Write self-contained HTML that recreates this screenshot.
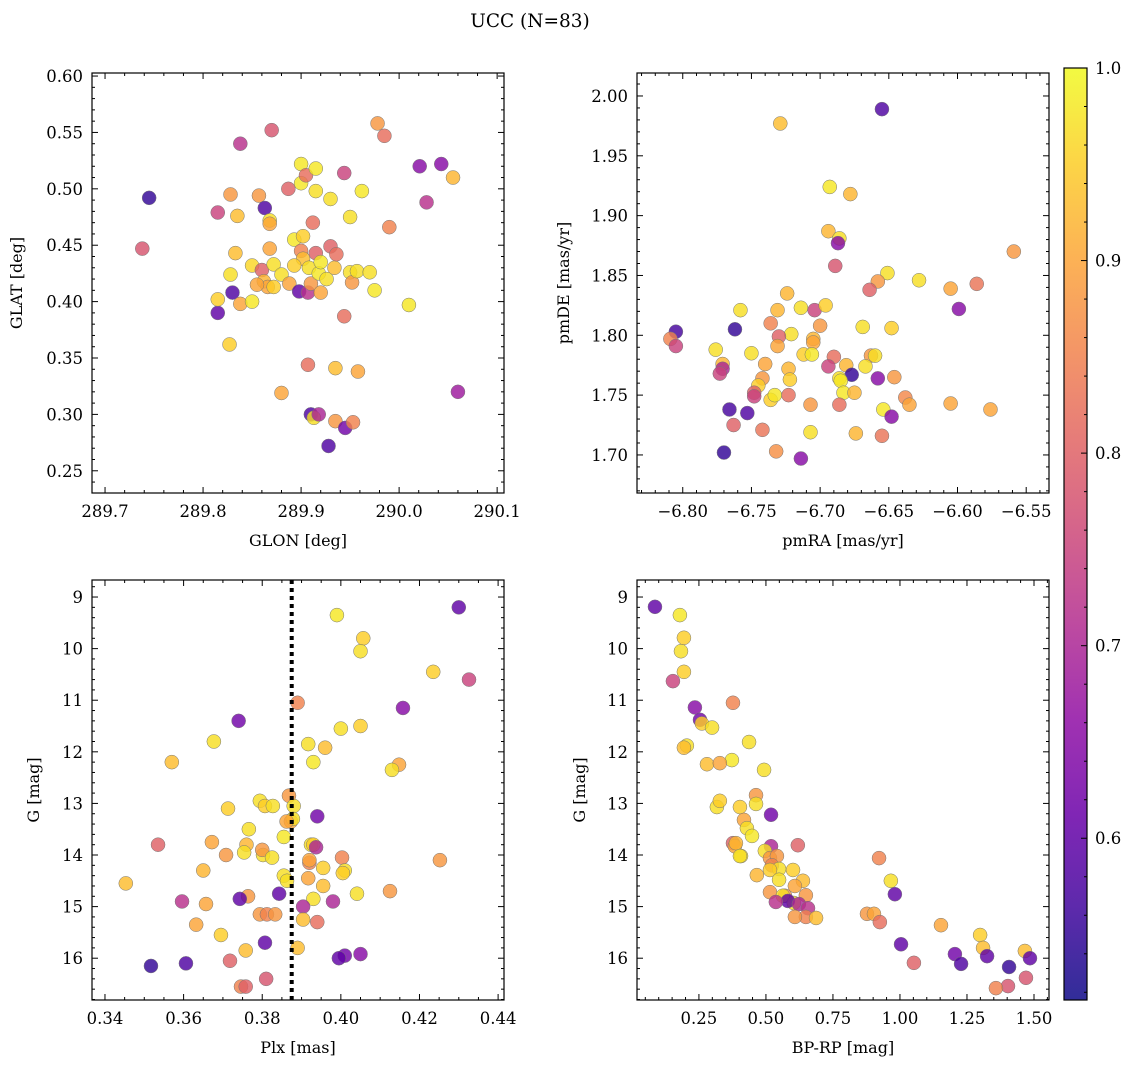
<!DOCTYPE html>
<html><head><meta charset="utf-8"><style>
body{margin:0;background:#fff;}
svg{display:block;font-family:"DejaVu Serif","Liberation Serif",serif;}
</style></head><body>
<svg id="c" width="1136" height="1068" viewBox="0 0 1136 1068" xmlns="http://www.w3.org/2000/svg">
<text x="530" y="27" text-anchor="middle" font-size="18.5">UCC (N=83)</text>
</svg>
<script>
// Panel 1: GLON / GLAT
const glon=[289.745,289.738,289.815,289.815,289.815,289.827,289.830,289.828,289.833,289.828,289.835,289.838,289.838,289.850,289.850,289.857,289.860,289.862,289.863,289.866,289.870,289.868,289.868,289.868,289.872,289.872,289.880,289.880,289.887,289.888,289.893,289.898,289.900,289.900,289.900,289.902,289.902,289.905,289.907,289.907,289.908,289.910,289.910,289.912,289.913,289.915,289.915,289.915,289.918,289.918,289.920,289.928,289.930,289.930,289.934,289.935,289.935,289.936,289.944,289.944,289.945,289.950,289.950,289.952,289.953,289.957,289.958,289.962,289.970,289.975,289.978,289.985,289.990,290.010,290.021,290.028,290.043,290.055,290.060,289.855,289.893,289.926,289.920];
const glat=[0.492,0.447,0.479,0.390,0.402,0.362,0.408,0.424,0.443,0.495,0.476,0.540,0.398,0.400,0.432,0.494,0.428,0.418,0.483,0.413,0.552,0.472,0.469,0.447,0.413,0.433,0.319,0.424,0.500,0.416,0.455,0.409,0.522,0.505,0.445,0.438,0.458,0.512,0.344,0.408,0.430,0.300,0.416,0.470,0.297,0.443,0.518,0.498,0.425,0.300,0.435,0.272,0.491,0.449,0.430,0.341,0.294,0.442,0.514,0.387,0.288,0.475,0.426,0.417,0.293,0.427,0.338,0.498,0.426,0.410,0.558,0.547,0.466,0.397,0.520,0.488,0.522,0.510,0.320,0.415,0.432,0.420,0.408];
const prob1=[0.55,0.78,0.75,0.6,0.95,0.95,0.58,0.97,0.93,0.88,0.93,0.72,0.9,0.98,0.96,0.88,0.8,0.92,0.58,0.9,0.78,0.97,0.9,0.9,0.95,0.97,0.9,0.97,0.8,0.9,0.98,0.6,0.98,0.98,0.85,0.93,0.95,0.82,0.82,0.72,0.97,0.58,0.88,0.82,0.97,0.8,0.98,0.97,0.98,0.7,0.98,0.58,0.97,0.8,0.93,0.93,0.88,0.82,0.75,0.82,0.62,0.97,0.97,0.88,0.85,0.97,0.9,0.98,0.97,0.98,0.88,0.82,0.85,0.98,0.65,0.72,0.65,0.92,0.68,0.9,0.95,0.97,0.9];
// Panel 2: pmRA / pmDE
const pmra=[-6.655,-6.729,-6.693,-6.678,-6.694,-6.686,-6.687,-6.559,-6.689,-6.651,-6.658,-6.664,-6.628,-6.605,-6.586,-6.599,-6.724,-6.758,-6.731,-6.714,-6.704,-6.696,-6.805,-6.762,-6.736,-6.721,-6.700,-6.730,-6.669,-6.648,-6.809,-6.805,-6.776,-6.750,-6.731,-6.705,-6.705,-6.712,-6.706,-6.690,-6.663,-6.660,-6.771,-6.771,-6.773,-6.740,-6.723,-6.722,-6.694,-6.681,-6.667,-6.677,-6.658,-6.646,-6.686,-6.685,-6.742,-6.745,-6.748,-6.748,-6.736,-6.733,-6.723,-6.683,-6.675,-6.638,-6.635,-6.707,-6.686,-6.605,-6.576,-6.654,-6.648,-6.766,-6.753,-6.763,-6.742,-6.707,-6.674,-6.655,-6.770,-6.732,-6.714];
const pmde=[1.989,1.977,1.924,1.918,1.887,1.881,1.877,1.870,1.858,1.852,1.845,1.838,1.846,1.839,1.843,1.822,1.835,1.821,1.821,1.823,1.821,1.825,1.803,1.805,1.810,1.801,1.808,1.799,1.807,1.806,1.797,1.791,1.788,1.785,1.791,1.797,1.794,1.784,1.784,1.782,1.783,1.783,1.776,1.772,1.768,1.776,1.772,1.763,1.774,1.775,1.774,1.767,1.764,1.765,1.764,1.762,1.764,1.758,1.752,1.749,1.746,1.750,1.750,1.752,1.752,1.748,1.742,1.742,1.742,1.743,1.738,1.738,1.732,1.738,1.735,1.725,1.721,1.719,1.718,1.716,1.702,1.703,1.697];
const prob2=[0.58,0.93,0.98,0.92,0.92,0.97,0.65,0.88,0.78,0.97,0.88,0.8,0.97,0.9,0.83,0.65,0.92,0.97,0.92,0.97,0.75,0.95,0.57,0.55,0.85,0.97,0.88,0.8,0.97,0.95,0.85,0.75,0.97,0.97,0.9,0.92,0.9,0.95,0.98,0.82,0.88,0.97,0.92,0.7,0.75,0.9,0.92,0.95,0.75,0.92,0.97,0.55,0.65,0.88,0.97,0.98,0.88,0.95,0.8,0.75,0.95,0.98,0.82,0.98,0.92,0.86,0.9,0.88,0.82,0.9,0.9,0.98,0.65,0.57,0.58,0.8,0.83,0.97,0.92,0.83,0.55,0.87,0.65];
// Panel 3: Plx / G
const plx=[0.430,0.399,0.4057,0.405,0.4235,0.4326,0.389,0.4158,0.374,0.405,0.400,0.3677,0.3917,0.396,0.357,0.393,0.4148,0.413,0.3868,0.3794,0.3713,0.3807,0.3827,0.388,0.394,0.3873,0.3878,0.3766,0.3855,0.3535,0.3672,0.376,0.3924,0.393,0.3937,0.3754,0.3708,0.3802,0.38,0.3825,0.4003,0.392,0.3955,0.4252,0.365,0.401,0.4005,0.3855,0.3863,0.3917,0.3955,0.3453,0.4041,0.4125,0.3764,0.3843,0.393,0.3743,0.3657,0.3596,0.398,0.3904,0.3794,0.3812,0.3833,0.3904,0.394,0.3632,0.3695,0.3807,0.389,0.3758,0.3718,0.3606,0.3517,0.401,0.3995,0.405,0.381,0.3746,0.3758,0.3862,0.392];
const gmag3=[9.2,9.35,9.8,10.05,10.45,10.6,11.05,11.15,11.4,11.5,11.55,11.8,11.85,11.92,12.2,12.2,12.25,12.35,12.85,12.95,13.1,13.05,13.05,13.05,13.25,13.35,13.3,13.5,13.65,13.8,13.75,13.8,13.8,13.8,13.85,13.95,14.0,14.0,13.9,14.05,14.05,14.15,14.25,14.1,14.3,14.3,14.35,14.4,14.5,14.45,14.6,14.55,14.75,14.7,14.8,14.75,14.85,14.85,14.95,14.9,14.9,15.0,15.15,15.15,15.15,15.25,15.3,15.35,15.55,15.7,15.8,15.85,16.05,16.1,16.15,15.95,16.0,15.92,16.4,16.55,16.55,13.35,14.1];
const prob3=[0.6,0.98,0.95,0.97,0.95,0.75,0.85,0.65,0.62,0.95,0.97,0.97,0.97,0.93,0.93,0.98,0.9,0.97,0.88,0.97,0.95,0.95,0.97,0.97,0.62,0.9,0.97,0.97,0.98,0.8,0.9,0.92,0.97,0.95,0.7,0.97,0.88,0.97,0.88,0.97,0.85,0.85,0.95,0.88,0.92,0.97,0.95,0.97,0.97,0.9,0.93,0.93,0.97,0.88,0.88,0.6,0.97,0.6,0.9,0.72,0.7,0.7,0.88,0.85,0.88,0.93,0.82,0.9,0.95,0.6,0.93,0.93,0.8,0.58,0.55,0.62,0.6,0.65,0.78,0.85,0.8,0.9,0.9];
// Panel 4: BP-RP / G
const bprp=[0.086,0.179,0.194,0.183,0.194,0.153,0.377,0.235,0.254,0.261,0.299,0.437,0.205,0.194,0.280,0.373,0.328,0.493,0.463,0.317,0.403,0.328,0.463,0.519,0.418,0.429,0.448,0.377,0.384,0.407,0.388,0.519,0.619,0.496,0.403,0.515,0.541,0.922,0.522,0.601,0.549,0.515,0.466,0.966,0.549,0.638,0.608,0.515,0.571,0.981,0.563,0.649,0.604,0.582,0.537,0.623,0.657,0.649,0.608,0.877,0.903,0.687,0.925,1.153,1.299,1.004,1.31,1.466,1.205,1.325,1.485,1.052,1.228,1.407,1.403,1.358,1.47];
const gmag4=[9.19,9.35,9.79,10.05,10.45,10.63,11.05,11.14,11.38,11.45,11.53,11.81,11.88,11.92,12.24,12.16,12.22,12.35,12.84,13.07,13.07,12.95,13.01,13.22,13.32,13.48,13.63,13.77,13.83,14.02,13.77,13.83,13.81,13.92,14.02,14.06,14.02,14.06,14.2,14.29,14.27,14.29,14.39,14.5,14.48,14.5,14.6,14.72,14.79,14.76,14.79,14.78,14.93,14.89,14.91,14.95,15.03,15.2,15.2,15.14,15.14,15.22,15.3,15.36,15.55,15.73,15.8,15.86,15.92,15.96,16.0,16.09,16.11,16.17,16.54,16.58,16.38];
const prob4=[0.6,0.98,0.95,0.97,0.95,0.75,0.85,0.65,0.62,0.95,0.97,0.97,0.97,0.93,0.93,0.98,0.9,0.97,0.88,0.97,0.95,0.95,0.97,0.62,0.9,0.97,0.98,0.8,0.9,0.97,0.92,0.7,0.8,0.97,0.97,0.88,0.88,0.85,0.85,0.95,0.97,0.95,0.92,0.97,0.97,0.93,0.9,0.88,0.88,0.6,0.97,0.88,0.97,0.6,0.72,0.7,0.72,0.85,0.88,0.88,0.9,0.93,0.82,0.9,0.95,0.6,0.93,0.93,0.62,0.6,0.6,0.8,0.58,0.55,0.78,0.85,0.78];
const plxLine=0.3875;
const cbTicks=[0.6,0.7,0.8,0.9,1.0];
const cbMin=0.516, cbMax=1.0;

const NS="http://www.w3.org/2000/svg";
const svg=document.getElementById('c');
const FS=16.5;
function mk(tag,attrs,parent){const e=document.createElementNS(NS,tag);for(const k in attrs)e.setAttribute(k,attrs[k]);(parent||svg).appendChild(e);return e;}
const stops=['#0d0887','#41049d','#6a00a8','#8f0da4','#b12a90','#cc4778','#e16462','#f2844b','#fca636','#fcce25','#f0f921'];
function hex(c){return [parseInt(c.slice(1,3),16),parseInt(c.slice(3,5),16),parseInt(c.slice(5,7),16)];}
function plasma(t){t=Math.max(0,Math.min(1,t));const f=t*10,i=Math.min(9,Math.floor(f)),r=f-i;const a=hex(stops[i]),b=hex(stops[i+1]);return 'rgb('+a.map((v,k)=>Math.round(v+(b[k]-v)*r)).join(',')+')';}
function cmap(v){return plasma((v-cbMin)/(cbMax-cbMin));}

function panel(o){
  const g=mk('g',{});
  
  
  const X=v=>o.x0+(v-o.xd[0])/(o.xd[1]-o.xd[0])*(o.x1-o.x0);
  const Y=v=>o.y1-(v-o.yd[0])/(o.yd[1]-o.yd[0])*(o.y1-o.y0);
  const pg=mk('g',{},g);
  const n=Math.min(o.xs.length,o.ys.length,o.cs.length);
  for(let i=0;i<n;i++){
    const c=mk('circle',{cx:X(o.xs[i]),cy:Y(o.ys[i]),r:7,fill:cmap(o.cs[i]),'fill-opacity':0.82,stroke:'#777','stroke-width':0.5},pg);
    
    
  }
  if(o.vline!==undefined){
    const l=mk('line',{x1:X(o.vline),x2:X(o.vline),y1:o.y0,y2:o.y1,stroke:'#000','stroke-width':4,'stroke-dasharray':'4,4'},g);
    
    
  }
  const fr=mk('rect',{x:o.x0,y:o.y0,width:o.x1-o.x0,height:o.y1-o.y0,fill:'none',stroke:'#000','stroke-width':1.2},g);
  
  
  const eps=1e-9;
  const xs0=Math.ceil(o.xd[0]/o.xmin-eps)*o.xmin;
  for(let v=xs0;v<=o.xd[1]+eps;v+=o.xmin){
    const maj=Math.abs(v/o.xmaj-Math.round(v/o.xmaj))<1e-4;const L=maj?6:3;const px=X(v);
    mk('line',{x1:px,x2:px,y1:o.y1,y2:o.y1-L,stroke:'#000','stroke-width':1},g);
    mk('line',{x1:px,x2:px,y1:o.y0,y2:o.y0+L,stroke:'#000','stroke-width':1},g);
  }
  o.xlabs.forEach(s=>{const t=mk('text',{x:X(parseFloat(s.replace('−','-'))),y:o.y1+24,'text-anchor':'middle','font-size':FS},g);t.textContent=s;
    });
  const ys0=Math.ceil(o.yd[0]/o.ymin-eps)*o.ymin;
  for(let v=ys0;v<=o.yd[1]+eps;v+=o.ymin){
    const maj=Math.abs(v/o.ymaj-Math.round(v/o.ymaj))<1e-4;const L=maj?6:3;const py=Y(v);
    mk('line',{x1:o.x0,x2:o.x0+L,y1:py,y2:py,stroke:'#000','stroke-width':1},g);
    mk('line',{x1:o.x1,x2:o.x1-L,y1:py,y2:py,stroke:'#000','stroke-width':1},g);
  }
  o.ylabs.forEach(s=>{const t=mk('text',{x:o.x0-9,y:Y(parseFloat(s))+6,'text-anchor':'end','font-size':FS},g);t.textContent=s;
    });
  const xt=mk('text',{x:(o.x0+o.x1)/2,y:o.y1+53,'text-anchor':'middle','font-size':16},g);xt.textContent=o.xt;
  
  const yt=mk('text',{x:o.ytx,y:(o.y0+o.y1)/2,'text-anchor':'middle','font-size':16,transform:'rotate(-90 '+o.ytx+' '+(o.y0+o.y1)/2+')'},g);yt.textContent=o.yt;
  
}

panel({name:'glon-glat-panel',x0:92,x1:504,y0:73,y1:493,xd:[289.6867,290.107],yd:[0.2303,0.6027],xs:glon,ys:glat,cs:prob1,
  xmaj:0.1,xmin:0.02,ymaj:0.05,ymin:0.01,xlabs:['289.7','289.8','289.9','290.0','290.1'],
  ylabs:['0.25','0.30','0.35','0.40','0.45','0.50','0.55','0.60'],xt:'GLON [deg]',yt:'GLAT [deg]',ytx:22});
panel({name:'pm-panel',x0:637,x1:1049,y0:73,y1:493,xd:[-6.8333,-6.5334],yd:[1.6682,2.0192],xs:pmra,ys:pmde,cs:prob2,
  xmaj:0.05,xmin:0.01,ymaj:0.05,ymin:0.01,xlabs:['−6.80','−6.75','−6.70','−6.65','−6.60','−6.55'],
  ylabs:['1.70','1.75','1.80','1.85','1.90','1.95','2.00'],xt:'pmRA [mas/yr]',yt:'pmDE [mas/yr]',ytx:569});
panel({name:'plx-g-panel',x0:92,x1:504,y0:580,y1:1000,xd:[0.3367,0.4415],yd:[-16.81,-8.67],xs:plx,ys:gmag3.map(v=>-v),cs:prob3,vline:plxLine,
  xmaj:0.02,xmin:0.005,ymaj:1,ymin:0.2,xlabs:['0.34','0.36','0.38','0.40','0.42','0.44'],
  ylabs:[],xt:'Plx [mas]',yt:'G [mag]',ytx:39});
panel({name:'cmd-panel',x0:637,x1:1049,y0:580,y1:1000,xd:[0.019,1.556],yd:[-16.81,-8.67],xs:bprp,ys:gmag4.map(v=>-v),cs:prob4,
  xmaj:0.25,xmin:0.05,ymaj:1,ymin:0.2,xlabs:['0.25','0.50','0.75','1.00','1.25','1.50'],
  ylabs:[],xt:'BP-RP [mag]',yt:'G [mag]',ytx:585});
const gTicks=[9,10,11,12,13,14,15,16];
[92,637].forEach(x0=>{gTicks.forEach(v=>{const py=1000-(-v+16.81)/(16.81-8.67)*420;
  const t=mk('text',{x:x0-9,y:py+6,'text-anchor':'end','font-size':FS});t.textContent=String(v);
  });});
const defs=mk('defs',{});const lg=mk('linearGradient',{id:'pl',x1:0,y1:1,x2:0,y2:0},defs);
for(let i=0;i<=20;i++){mk('stop',{offset:i/20,'stop-color':plasma(i/20),'stop-opacity':0.85},lg);}
const cb=mk('rect',{x:1064,y:68,width:23,height:932,fill:'url(#pl)',stroke:'#000','stroke-width':1.2});


const CY=v=>1000-(v-cbMin)/(cbMax-cbMin)*932;
for(let v=0.52;v<=1.0001;v+=0.02){const py=CY(v);const maj=Math.abs(v*10-Math.round(v*10))<1e-3;
  mk('line',{x1:1087,x2:1087-(maj?6:3),y1:py,y2:py,stroke:'#000','stroke-width':1});}
cbTicks.forEach(v=>{const t=mk('text',{x:1095,y:CY(v)+6,'font-size':FS});t.textContent=v.toFixed(1);
  });
</script>
</body></html>
